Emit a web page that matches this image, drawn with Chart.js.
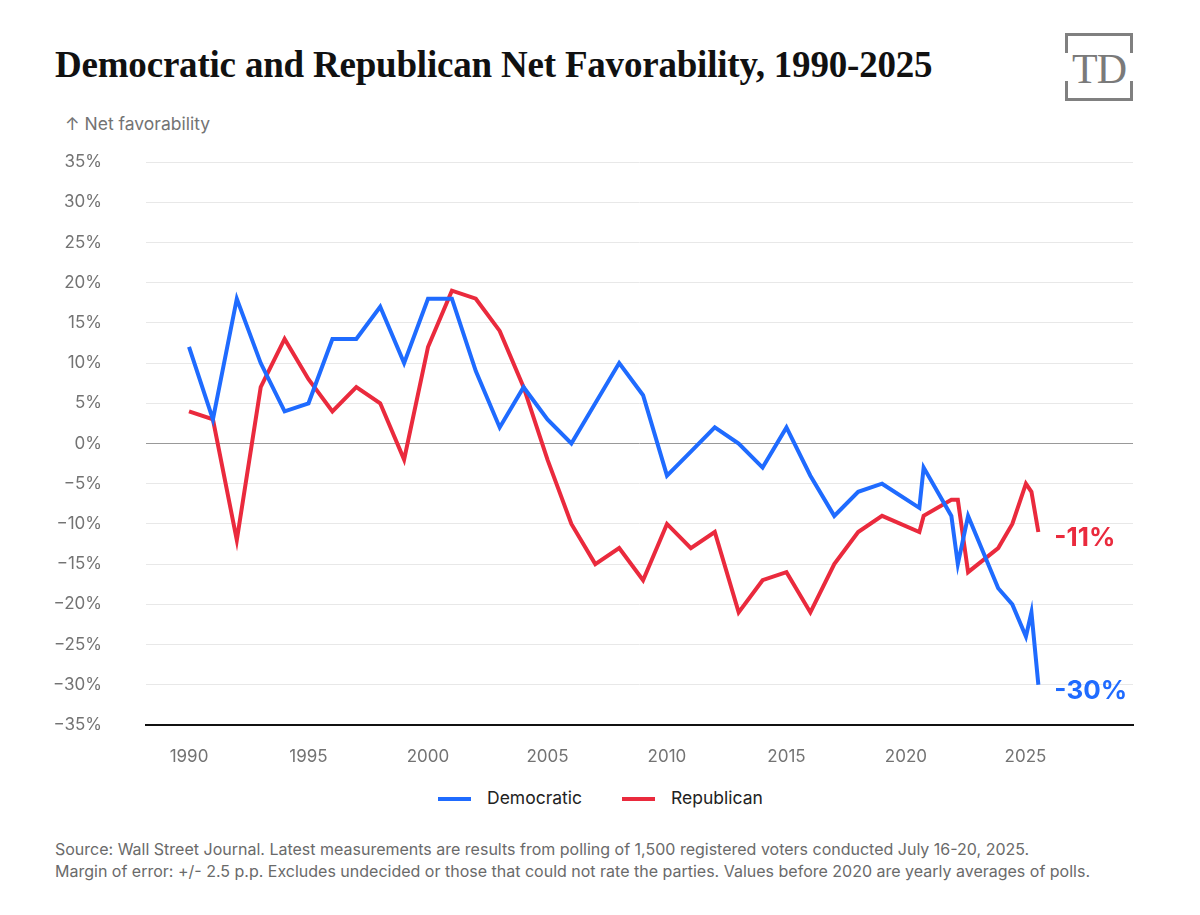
<!DOCTYPE html>
<html>
<head>
<meta charset="utf-8">
<script src="https://cdn.jsdelivr.net/npm/chart.js@4.4.1/dist/chart.umd.min.js"></script>
<style>
  body { margin: 0; background: #fff; }
  #page { position: relative; width: 1200px; height: 915px; background: #fff; overflow: hidden; font-family: Inter, "Noto Sans", sans-serif; }
  #title { position: absolute; left: 55px; top: 43px; font-family: "Liberation Serif", serif; font-weight: bold; font-size: 37px; color: #111; white-space: nowrap; letter-spacing: -0.2px; }
  #ytitle { position: absolute; left: 65px; top: 113px; font-size: 17.5px; color: #737373; }
  #wrap { position: absolute; left: 0; top: 150px; width: 1200px; height: 625px; }
  #legend { position: absolute; top: 787px; left: 0; width: 1200px; font-size: 17.5px; color: #222; }
  .item { position: absolute; top: 0; }
  .sw { position: absolute; top: 10px; width: 33px; height: 4px; }
  .lbl { position: absolute; left: 49px; top: 0; white-space: nowrap; }
  #source { position: absolute; left: 55px; top: 838px; font-size: 16px; line-height: 22px; color: #6a6a6a; white-space: nowrap; }
  #logo { position: absolute; left: 1065px; top: 33px; width: 68px; height: 68px; }
  .br { position: absolute; background: #808080; }
  #logo span { position: absolute; left: 0; width: 68px; top: 12px; text-align: center; font-family: "Liberation Serif", serif; font-size: 42px; color: #7a7a7a; letter-spacing: -1px; }
</style>
</head>
<body>
<div id="page">
  <div id="title">Democratic and Republican Net Favorability, 1990-2025</div>
  <div id="logo">
    <div class="br" style="left:0;top:0;width:68px;height:3px"></div>
    <div class="br" style="left:0;top:0;width:3px;height:20px"></div>
    <div class="br" style="right:0;top:0;width:3px;height:20px"></div>
    <div class="br" style="left:0;bottom:0;width:68px;height:3px"></div>
    <div class="br" style="left:0;bottom:0;width:3px;height:20px"></div>
    <div class="br" style="right:0;bottom:0;width:3px;height:20px"></div>
    <span>TD</span>
  </div>
  <div id="ytitle">↑ Net favorability</div>
  <div id="wrap"><canvas id="chart"></canvas></div>
  <div id="legend">
    <div class="item" style="left:438px"><div class="sw" style="background:#1f6bff"></div><div class="lbl">Democratic</div></div>
    <div class="item" style="left:622px"><div class="sw" style="background:#ea2a3d"></div><div class="lbl">Republican</div></div>
  </div>
  <div id="source">Source: Wall Street Journal. Latest measurements are results from polling of 1,500 registered voters conducted July 16-20, 2025.<br>Margin of error: +/- 2.5 p.p. Excludes undecided or those that could not rate the parties. Values before 2020 are yearly averages of polls.</div>
</div>
<script>
// poll dates as decimal years (yearly averages before 2020)
const years = [1990, 1991, 1992, 1993, 1994, 1995, 1996, 1997, 1998, 1999,
    2000, 2001, 2002, 2003, 2004, 2005, 2006, 2007, 2008, 2009,
    2010, 2011, 2012, 2013, 2014, 2015, 2016, 2017, 2018, 2019,
    2020.56, 2020.74, 2021.9, 2022.17, 2022.6, 2023.86, 2024.45, 2025.02, 2025.25, 2025.54];
const democratic = [12, 3, 18, 10, 4, 5, 13, 13, 17, 10,
    18, 18, 9, 2, 7, 3, 0, 5, 10, 6,
    -4, -1, 2, 0, -3, 2, -4, -9, -6, -5,
    -8, -3, -9, -15, -9, -18, -20, -24, -21, -30];
const republican = [4, 3, -12, 7, 13, 8, 4, 7, 5, -2,
    12, 19, 18, 14, 7, -2, -10, -15, -13, -17,
    -10, -13, -11, -21, -17, -16, -21, -15, -11, -9,
    -11, -9, -7, -7, -16, -13, -10, -5, -6, -11];
const xTicks = [1990, 1995, 2000, 2005, 2010, 2015, 2020, 2025];

const BLUE = '#1f6bff';
const RED = '#ea2a3d';

const toPoints = arr => arr.map((v, i) => ({ x: years[i], y: v }));

// last-value labels at the end of each line
const endLabels = {
    id: 'endLabels',
    afterDatasetsDraw(chart) {
        const ctx = chart.ctx;
        chart.data.datasets.forEach((ds, i) => {
            const pts = chart.getDatasetMeta(i).data;
            const last = pts[pts.length - 1];
            const val = ds.data[ds.data.length - 1].y;
            ctx.save();
            ctx.font = 'bold 26px Inter, sans-serif';
            ctx.fillStyle = ds.borderColor;
            ctx.textAlign = 'left';
            ctx.textBaseline = 'middle';
            ctx.fillText(val + '%', last.x + 16, last.y + 6);
            ctx.restore();
        });
    }
};

new Chart(document.getElementById('chart'), {
    type: 'line',
    data: {
        datasets: [
            { label: 'Democratic', data: toPoints(democratic), borderColor: BLUE, borderWidth: 4, pointRadius: 0, tension: 0 },
            { label: 'Republican', data: toPoints(republican), borderColor: RED, borderWidth: 4, pointRadius: 0, tension: 0 }
        ]
    },
    options: {
        responsive: true,
        maintainAspectRatio: false,
        animation: false,
        layout: { padding: { left: 0, right: 67, top: 12, bottom: 0 } },
        plugins: { legend: { display: false }, tooltip: { enabled: false } },
        scales: {
            x: {
                type: 'linear',
                min: 1988.2,
                max: 2029.5,
                afterBuildTicks: s => { s.ticks = xTicks.map(v => ({ value: v })); },
                afterFit: s => { s.height = 50; s.paddingLeft = 0; s.paddingRight = 0; },
                grid: { display: false, drawTicks: false },
                border: { display: true, color: '#111', width: 2 },
                ticks: { padding: 22, color: '#737373', font: { family: 'Inter', size: 17 }, callback: v => String(v), maxRotation: 0 }
            },
            y: {
                min: -35,
                max: 35,
                afterFit: s => { s.width = 146; s.paddingTop = 0; s.paddingBottom = 0; },
                grid: {
                    drawTicks: false,
                    color: c => c.tick.value === 0 ? '#999' : (c.tick.value === -35 ? '#111' : '#e8e8e8'),
                    lineWidth: c => c.tick.value === -35 ? 2 : 1
                },
                border: { display: false },
                ticks: {
                    stepSize: 5,
                    padding: 44,
                    color: '#737373',
                    font: { family: 'Inter', size: 17 },
                    callback: v => (v < 0 ? '\u2212' + Math.abs(v) : v) + '%'
                }
            }
        }
    },
    plugins: [endLabels]
});
</script>
</body>
</html>
